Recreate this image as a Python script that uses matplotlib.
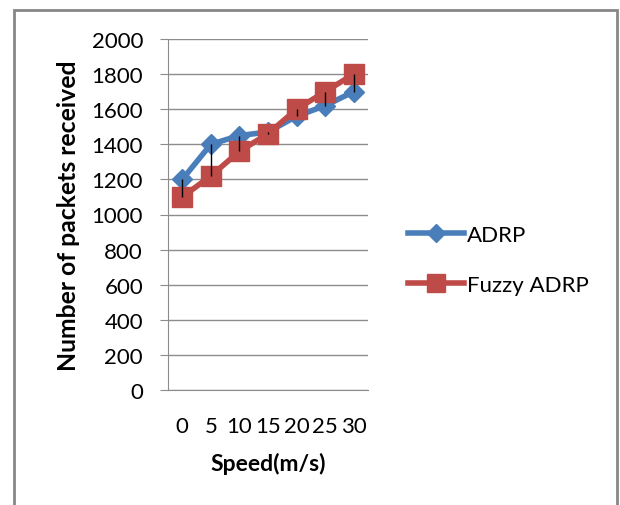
import matplotlib
matplotlib.use("Agg")
import matplotlib.pyplot as plt
from matplotlib.patches import Rectangle

categories = ["0", "5", "10", "15", "20", "25", "30"]
adrp = [1200, 1400, 1450, 1470, 1560, 1620, 1700]
fuzzy = [1100, 1220, 1360, 1460, 1600, 1700, 1800]
yticks = [0, 200, 400, 600, 800, 1000, 1200, 1400, 1600, 1800, 2000]

plt.rcParams['font.family'] = ['Lato', 'DejaVu Sans']

fig = plt.figure(figsize=(6.2, 5.06), dpi=100)
fig.patches.append(Rectangle((14/620, -0.1), (617-14)/620, 1 - 11/506 + 0.1,
                             transform=fig.transFigure, fill=False,
                             edgecolor='#878787', linewidth=2))

ax = fig.add_axes([168/620, 1 - 391/506, 200/620, 351/506])
x = list(range(len(categories)))

blue = '#4A7EBB'
red = '#BE4B48'
l1, = ax.plot(x, adrp, color=blue, lw=4, marker='D', ms=10.5, label='ADRP', zorder=3)
l2, = ax.plot(x, fuzzy, color=red, lw=4, marker='s', ms=14.5, label='Fuzzy ADRP', zorder=4)
lo = [min(a, b) for a, b in zip(adrp, fuzzy)]
hi = [max(a, b) for a, b in zip(adrp, fuzzy)]
ax.vlines(x, lo, hi, color='black', lw=1, zorder=5)

ax.set_xlim(-0.5, len(categories) - 0.5)
ax.set_ylim(0, 2000)
ax.set_yticks(yticks)
ax.set_xticks(x)
ax.set_xticklabels(categories)
ax.grid(axis='y', color='#8c8c8c', lw=1)
ax.set_axisbelow(True)
for s in ['top', 'right']:
    ax.spines[s].set_visible(False)
ax.spines['left'].set_color('#8c8c8c')
ax.spines['bottom'].set_color('#8c8c8c')
ax.tick_params(axis='y', length=6, color='#8c8c8c', labelsize=16, pad=12)
ax.tick_params(axis='x', length=0, labelsize=16, pad=19)

ax.set_ylabel('Number of packets received', fontsize=17.8, fontweight='bold', labelpad=8)
ax.set_xlabel('Speed(m/s)', fontsize=16.5, fontweight='bold', labelpad=11)

fig.legend(handles=[l1, l2], loc='center left', bbox_to_anchor=(388/620, 1 - 261/506),
           frameon=False, fontsize=16, handlelength=2.5, handletextpad=0.15,
           labelspacing=1.35, markerscale=0.85)

fig.savefig('out.png', dpi=100)
